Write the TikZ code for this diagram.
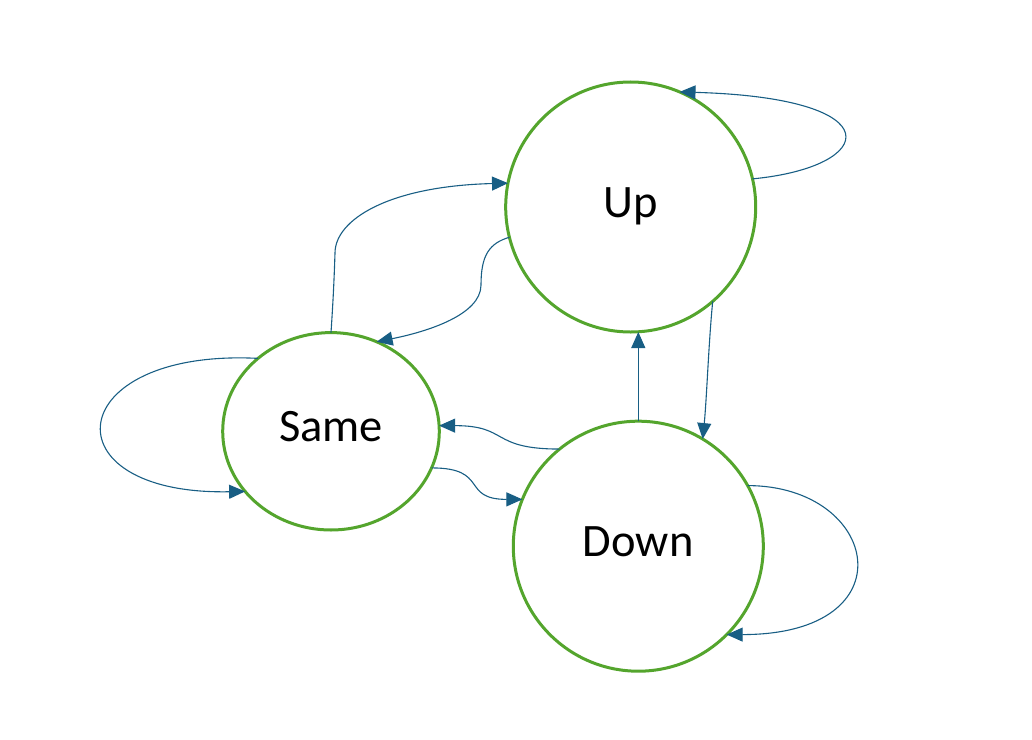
\documentclass[tikz,border=0pt]{standalone}
\usepackage{fontspec}
\setmainfont{Carlito}
\usetikzlibrary{arrows.meta,shapes.geometric}
\definecolor{stgreen}{RGB}{84,165,45}
\definecolor{edgeblue}{RGB}{24,94,132}
\begin{document}
\begin{tikzpicture}[x=1bp,y=-1bp,
  state/.style={draw=stgreen, line width=3bp, fill=white, outer sep=0pt, inner sep=0pt,
    text height=29bp, text depth=9bp, font=\fontsize{46.5bp}{56bp}\selectfont},
  roundstate/.style={state, circle, minimum size=250bp},
  ovalstate/.style={state, ellipse, minimum width=216.6bp, minimum height=197.4bp},
  trans/.style={draw=edgeblue, line width=1.1bp, -{Triangle[length=16bp,width=14bp]}}]
\useasboundingbox (0,0) rectangle (1032,740);
\node[roundstate] (up) at (630.7,207) {Up};
\node[ovalstate] (same) at (331,431.3) {Same};
\node[roundstate] (down) at (638.3,546.2) {Down};

\draw[trans] (up.13) .. controls +(125,-12) and +(215,6) .. (up.67);
\draw[trans] (same.north) .. controls +(2,-30) and +(-1,30) .. (335,253)
  .. controls +(0,-33) and +(-120,3) .. (up.169);
\draw[trans] (up.194) .. controls +(-20,6) and +(0,-30) .. (481,285)
  .. controls +(0,30) and +(50,-10) .. (same.63);
\draw[trans] (down.north) -- (down.north |- up.south);
\draw[trans] (up.311) .. controls +(-4,40) and +(4,-40) .. (down.59);
\draw[trans] (down.129) .. controls +(-70,0) and +(70,0) .. (same.3);
\draw[trans] (same.-20) .. controls +(58,0) and +(-62,0) .. (down.158);
\draw[trans] (down.29) .. controls +(132,0) and +(184,0) .. (down.-45);
\draw[trans] (same.135) .. controls +(-197,-10) and +(-200,4) .. (same.215);
\end{tikzpicture}
\end{document}
